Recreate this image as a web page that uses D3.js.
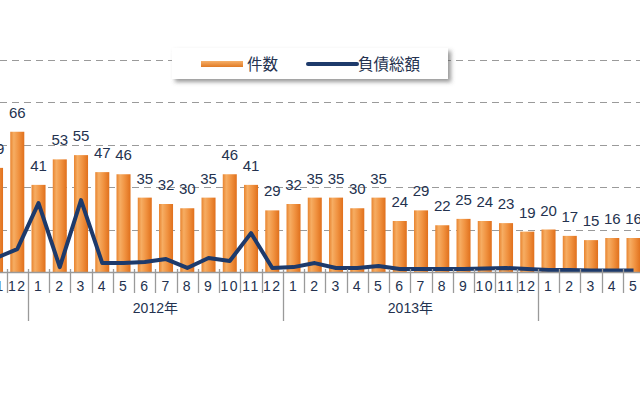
<!DOCTYPE html>
<html>
<head>
<meta charset="utf-8">
<script src="https://cdn.jsdelivr.net/npm/d3@7"></script>
<style>
  body { margin: 0; background: #fff; }
  svg { display: block; }
</style>
</head>
<body>
<div id="chart"></div>
<script>
// Data (months from 2011-11 to 2014-5, the view is cropped at both ends)
const months = ["2011-11", "2011-12",
  "2012-1", "2012-2", "2012-3", "2012-4", "2012-5", "2012-6", "2012-7", "2012-8", "2012-9", "2012-10", "2012-11", "2012-12",
  "2013-1", "2013-2", "2013-3", "2013-4", "2013-5", "2013-6", "2013-7", "2013-8", "2013-9", "2013-10", "2013-11", "2013-12",
  "2014-1", "2014-2", "2014-3", "2014-4", "2014-5"];
const counts = [49, 66,
  41, 53, 55, 47, 46, 35, 32, 30, 35, 46, 41, 29,
  32, 35, 35, 30, 35, 24, 29, 22, 25, 24, 23, 19,
  20, 17, 15, 16, 16];
const debt = [66, 108,
  324, 23, 338, 42, 42, 47, 61, 19, 66, 52, 183, 19,
  23, 42, 19, 19, 28, 14, 14, 14, 14, 16, 19, 14,
  9, 9, 7, 7, 7];
const years = ["2012", "2013"];
const gridTicks = [20, 40, 60, 80, 100];
const legendItems = ["件数", "負債総額"];

const W = 640, H = 400;
const baseY = 272;
const navy = "#1d3a6b";
const textColor = "#24324f";

const svg = d3.select("#chart")
    .append("svg")
    .attr("width", W)
    .attr("height", H);

const defs = svg.append("defs");
const grad = defs.append("linearGradient")
    .attr("id", "barGrad")
    .attr("x1", "0").attr("x2", "1").attr("y1", "0").attr("y2", "0");
grad.append("stop").attr("offset", "0%").attr("stop-color", "#e8842f");
grad.append("stop").attr("offset", "25%").attr("stop-color", "#f6ad63");
grad.append("stop").attr("offset", "60%").attr("stop-color", "#f09240");
grad.append("stop").attr("offset", "100%").attr("stop-color", "#e0701c");

const shadow = defs.append("filter").attr("id", "shadow")
    .attr("x", "-10%").attr("y", "-30%").attr("width", "120%").attr("height", "180%");
shadow.append("feDropShadow")
    .attr("dx", 3).attr("dy", 3).attr("stdDeviation", 2)
    .attr("flood-color", "#555").attr("flood-opacity", 0.6);

// Scales
const x = d3.scaleBand()
    .domain(months)
    .range([-14.6, -14.6 + 21.25 * months.length])
    .paddingInner(0.34)
    .paddingOuter(0.17);

const y = d3.scaleLinear()
    .domain([0, 100])
    .range([baseY, 59.5]);

const y2 = d3.scaleLinear()
    .domain([0, 1000])
    .range([baseY, 59.5]);

const gap = (x.step() - x.bandwidth()) / 2;
const monthOf = d => d.split("-")[1];

// Grid lines
svg.append("g")
    .selectAll("line")
    .data(gridTicks)
    .enter()
    .append("line")
    .attr("x1", 0)
    .attr("x2", W)
    .attr("y1", d => Math.round(y(d)) + 0.5)
    .attr("y2", d => Math.round(y(d)) + 0.5)
    .attr("stroke", "#9a9a9a")
    .attr("stroke-width", 1)
    .attr("stroke-dasharray", "7,5");

// Bars
svg.append("g")
    .selectAll("rect")
    .data(months)
    .enter()
    .append("rect")
    .attr("x", d => x(d))
    .attr("y", (d, i) => y(counts[i]))
    .attr("width", x.bandwidth())
    .attr("height", (d, i) => baseY - y(counts[i]))
    .attr("fill", "url(#barGrad)");

// Value labels
svg.append("g")
    .selectAll("text")
    .data(months)
    .enter()
    .append("text")
    .attr("x", d => x(d) + x.bandwidth() / 2)
    .attr("y", (d, i) => y(counts[i]) - 14)
    .attr("text-anchor", "middle")
    .attr("font-family", "Liberation Sans, Arial, sans-serif")
    .attr("font-size", 15)
    .attr("fill", textColor)
    .text((d, i) => counts[i]);

// Debt line
const line = d3.line()
    .x(d => x(d) + x.bandwidth() / 2)
    .y((d, i) => y2(debt[i]));

svg.append("path")
    .datum(months)
    .attr("d", line)
    .attr("fill", "none")
    .attr("stroke", navy)
    .attr("stroke-width", 4)
    .attr("stroke-linejoin", "round");

// X axis
const xAxis = svg.append("g")
    .attr("transform", `translate(0,${baseY})`)
    .call(d3.axisBottom(x).tickSize(0).tickPadding(9).tickFormat(monthOf));

xAxis.select(".domain").attr("stroke", "#9a9a9a").attr("stroke-width", 1.5);
xAxis.selectAll("text")
    .attr("font-family", "Liberation Sans, Arial, sans-serif")
    .attr("font-size", 14)
    .attr("letter-spacing", 1.5)
    .attr("fill", textColor);

// Separators between months, longer at year boundaries
svg.append("g")
    .selectAll("line")
    .data(months)
    .enter()
    .append("line")
    .attr("x1", d => Math.round(x(d) - gap) + 0.5)
    .attr("x2", d => Math.round(x(d) - gap) + 0.5)
    .attr("y1", baseY - 3)
    .attr("y2", d => monthOf(d) === "1" ? 321 : 293)
    .attr("stroke", "#9a9a9a")
    .attr("stroke-width", 1.3);

// Year labels
svg.append("g")
    .selectAll("text")
    .data(years)
    .enter()
    .append("text")
    .attr("x", d => (x(d + "-1") - gap + x(d + "-12") + x.bandwidth() + gap) / 2)
    .attr("y", 313)
    .attr("text-anchor", "middle")
    .attr("font-family", "Liberation Sans, 'Noto Sans CJK JP', sans-serif")
    .attr("font-size", 14)
    .attr("fill", textColor)
    .text(d => d + "年");

// Legend
const legend = svg.append("g");
legend.append("rect")
    .attr("x", 172).attr("y", 48)
    .attr("width", 276).attr("height", 31)
    .attr("fill", "#fff")
    .attr("filter", "url(#shadow)");

const swatchGrad = defs.append("linearGradient")
    .attr("id", "swatchGrad")
    .attr("x1", "0").attr("x2", "0").attr("y1", "0").attr("y2", "1");
swatchGrad.append("stop").attr("offset", "0%").attr("stop-color", "#f6b06a");
swatchGrad.append("stop").attr("offset", "100%").attr("stop-color", "#e07a25");

legend.append("rect")
    .attr("x", 201).attr("y", 61)
    .attr("width", 42).attr("height", 6)
    .attr("fill", "url(#swatchGrad)");
legend.append("line")
    .attr("x1", 308).attr("x2", 357)
    .attr("y1", 64).attr("y2", 64)
    .attr("stroke", navy)
    .attr("stroke-width", 4)
    .attr("stroke-linecap", "round");

legend.selectAll("text")
    .data(legendItems)
    .enter()
    .append("text")
    .attr("x", (d, i) => i === 0 ? 247 : 358)
    .attr("y", 70)
    .attr("font-family", "'Noto Sans CJK JP', sans-serif")
    .attr("font-size", 15.5)
    .attr("fill", textColor)
    .text(d => d);
</script>
</body>
</html>
